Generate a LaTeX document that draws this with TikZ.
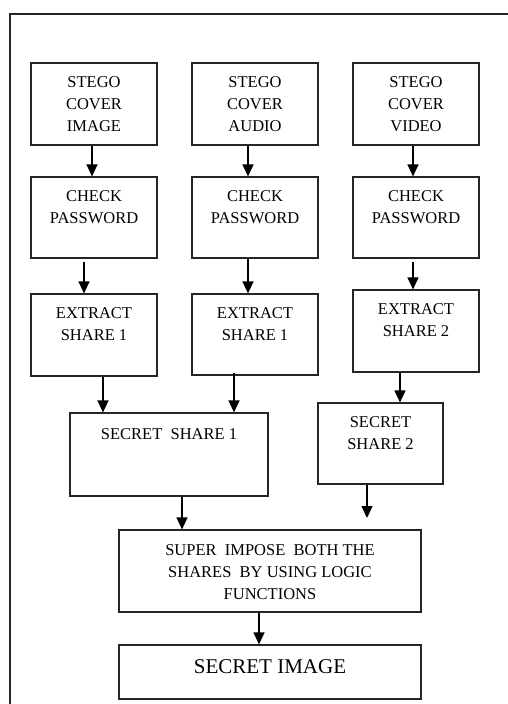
\documentclass[tikz,border=0pt]{standalone}
\usepackage{fontspec}
\setmainfont{Liberation Serif}
\usepackage{tikz}
\usetikzlibrary{arrows.meta,positioning,calc}

\begin{document}
\begin{tikzpicture}[
    x=1pt, y=-1pt,
    box/.style={
        rectangle,
        draw=black!85,
        line width=1.2pt,
        inner sep=0pt,
        minimum width=126pt,
        minimum height=82pt
    },
    txt/.style={
        align=center,
        inner sep=0pt,
        anchor=north,
        yshift=-14pt,
        font=\fontsize{16.5}{22}\selectfont
    },
    arrow/.style={-{Triangle[length=12pt,width=11pt]},line width=1.3pt,black}
]
    \useasboundingbox (0,0) rectangle (508,704);
    % Outer frame
    \draw[line width=1.3pt, black!85] (10,704) -- (10,14) -- (508,14);

    % Stego covers
    \node[box, label={[txt]north:STEGO\\COVER\\IMAGE}] (img) at (94,104) {};
    \node[box, label={[txt]north:STEGO\\COVER\\AUDIO}] (aud) at (255,104) {};
    \node[box, label={[txt]north:STEGO\\COVER\\VIDEO}] (vid) at (416,104) {};

    % Password checks
    \node[box, minimum height=81pt, label={[txt]north:CHECK\\PASSWORD}] (pw1) at (94,217.5) {};
    \node[box, minimum height=81pt, label={[txt]north:CHECK\\PASSWORD}] (pw2) at (255,217.5) {};
    \node[box, minimum height=81pt, label={[txt]north:CHECK\\PASSWORD}] (pw3) at (416,217.5) {};

    % Extraction
    \node[box, label={[txt]north:EXTRACT\\SHARE 1}] (ex1) at (94,335) {};
    \node[box, minimum height=81pt, label={[txt]north:EXTRACT\\SHARE 1}] (ex2) at (255,334.5) {};
    \node[box, label={[txt]north:EXTRACT\\SHARE 2}] (ex3) at (416,331) {};

    % Shares
    \node[box, minimum width=198pt, minimum height=83pt, label={[txt, yshift=-2pt]north:SECRET\ \ SHARE\ 1}] (ss1) at (169,454.5) {};
    \node[box, minimum width=125pt, minimum height=81pt, label={[txt]north:SECRET\\SHARE\ 2}] (ss2) at (380.5,443.5) {};
    \coordinate (in2) at (367,518);

    % Result
    \node[box, minimum width=302pt, label={[txt, yshift=-1pt]north:SUPER\ \ IMPOSE\ \ BOTH THE\\SHARES\ \ BY USING LOGIC\\FUNCTIONS}] (sup) at (270,571) {};
    \node[box, minimum width=302pt, minimum height=54pt, label={[txt, yshift=-1pt, font=\fontsize{21}{24}\selectfont]north:SECRET IMAGE}] (sec) at (270,672) {};

    % Arrows
    \draw[arrow] ([xshift=-2pt]img.south) -- ([xshift=-2pt]pw1.north);
    \draw[arrow] ([xshift=-7pt]aud.south) -- ([xshift=-7pt]pw2.north);
    \draw[arrow] ([xshift=-3pt]vid.south) -- ([xshift=-3pt]pw3.north);
    \draw[arrow, shorten <=3pt] ([xshift=-10pt]pw1.south) -- ([xshift=-10pt]ex1.north);
    \draw[arrow] ([xshift=-7pt]pw2.south) -- ([xshift=-7pt]ex2.north);
    \draw[arrow, shorten <=3pt] ([xshift=-3pt]pw3.south) -- ([xshift=-3pt]ex3.north);
    \draw[arrow] ([xshift=9pt]ex1.south) -- ([xshift=9pt]ex1.south |- ss1.north);
    \draw[arrow, shorten <=-3pt] ([xshift=-21pt]ex2.south) -- ([xshift=-21pt]ex2.south |- ss1.north);
    \draw[arrow] ([xshift=-16pt]ex3.south) -- ([xshift=-16pt]ex3.south |- ss2.north);
    \draw[arrow] ([xshift=13pt]ss1.south) -- ([xshift=13pt]ss1.south |- sup.north);
    \draw[arrow] (ss2.south -| in2) -- (in2);
    \draw[arrow] ([xshift=-11pt]sup.south) -- ([xshift=-11pt]sec.north);
\end{tikzpicture}
\end{document}
